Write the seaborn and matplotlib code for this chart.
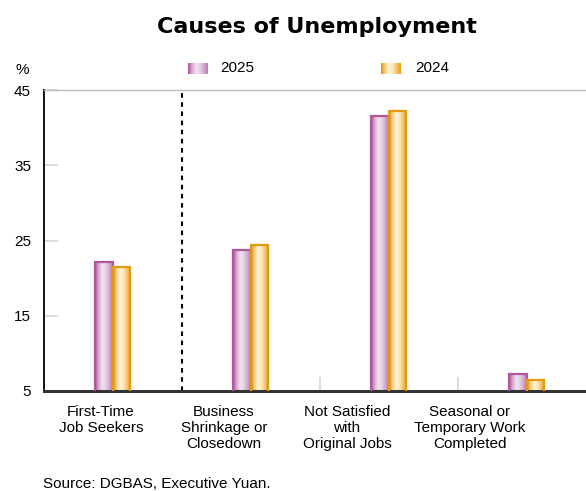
import numpy as np
import pandas as pd
import matplotlib
matplotlib.use("Agg")
import matplotlib.pyplot as plt
from matplotlib.colors import LinearSegmentedColormap
import seaborn as sns

# Data
categories = [
    "First-Time\nJob Seekers",
    "Business\nShrinkage or\nClosedown",
    "Not Satisfied\nwith\nOriginal Jobs",
    "Seasonal or\nTemporary Work\nCompleted",
]
years = ["2025", "2024"]
values_2025 = [22.1, 23.8, 41.6, 7.2]
values_2024 = [21.5, 24.4, 42.2, 6.4]
y_ticks = [5, 15, 25, 35, 45]

df = pd.DataFrame({
    "cause": categories * 2,
    "year": ["2025"] * 4 + ["2024"] * 4,
    "value": values_2025 + values_2024,
})

sns.set_theme(style="white")
plt.rcParams["font.family"] = ["Liberation Sans", "DejaVu Sans"]
plt.rcParams["text.color"] = "black"
plt.rcParams["xtick.color"] = "black"
plt.rcParams["ytick.color"] = "black"
plt.rcParams["ytick.direction"] = "in"
plt.rcParams["xtick.direction"] = "in"

edge_colors = {"2025": "#b3579c", "2024": "#e3980f"}
grad_maps = {
    "2025": LinearSegmentedColormap.from_list(
        "g2025", ["#b0509a", "#d7aad0", "#efe3ef", "#e6d2e4", "#d2a8cc", "#bf7cb3"]),
    "2024": LinearSegmentedColormap.from_list(
        "g2024", ["#e0940a", "#f7cf7e", "#fff4e0", "#fde6b8", "#f6c266", "#e89c14"]),
}

W, H = 586, 491
Y_MIN, Y_MAX = 5, 45
fig = plt.figure(figsize=(W / 100, H / 100), dpi=100)
ax = fig.add_axes([43.5 / W, 100 / H, 552 / W, 301 / H])

sns.barplot(data=df, x="cause", y="value", hue="year", hue_order=years,
            order=categories, width=0.25, ax=ax, legend=False,
            palette={"2025": "#d7aad0", "2024": "#f7cf7e"})

# gradient fills clipped to each bar
grad = np.linspace(0, 1, 256).reshape(1, -1)
for container, yr in zip(ax.containers, years):
    for bar in container:
        x0, y0 = bar.get_x(), bar.get_y()
        w, h = bar.get_width(), bar.get_height()
        bar.set_facecolor("none")
        bar.set_edgecolor(edge_colors[yr])
        bar.set_linewidth(1.6)
        bar.set_zorder(3)
        im = ax.imshow(grad, cmap=grad_maps[yr], aspect="auto",
                       extent=[x0, x0 + w, max(y0, Y_MIN), y0 + h],
                       interpolation="bicubic", zorder=2)
        im.set_clip_path(bar)

ax.set_xlim(-0.5, 3.5)
ax.set_ylim(Y_MIN, Y_MAX)

# spines
ax.spines["top"].set_color("#bdbdbd")
ax.spines["top"].set_linewidth(1.0)
ax.spines["left"].set_color("black")
ax.spines["left"].set_linewidth(1.3)
ax.spines["bottom"].set_color("#333333")
ax.spines["bottom"].set_linewidth(2.2)
ax.spines["right"].set_visible(False)

# y axis
ax.set_yticks(y_ticks)
ax.set_yticklabels([str(v) for v in y_ticks], fontsize=11)
ax.tick_params(axis="y", which="major", direction="in", length=10, width=1.2,
               color="#d6d6d6", pad=9, labelcolor="black", left=True, right=False)

# x axis: labels spaced independently of the bar groups
label_frac = [(57.5 + 123 * i) / 552 for i in range(len(categories))]
label_pos = [f * 4 - 0.5 for f in label_frac]
ax.set_xticks(label_pos)
ax.set_xticklabels(categories, fontsize=11, linespacing=1.2)
ax.tick_params(axis="x", which="major", length=0, pad=10, labelcolor="black")
ax.set_xticks([1.5, 2.5], minor=True)
ax.tick_params(axis="x", which="minor", direction="in", length=10,
               width=1.2, color="#d6d6d6", bottom=True)
ax.set_xlabel("")
ax.set_ylabel("")

# dotted divider
ax.axvline(0.5, color="black", linestyle=(0, (2.2, 2.2)), linewidth=1.5, zorder=1)

# title, unit and source
fig.text(317 / W, 1 - 27 / H, "Causes of Unemployment", ha="center", va="center",
         fontsize=16, fontweight="bold", family=["DejaVu Sans"], color="black")
fig.text(22 / W, 1 - 70 / H, "%", ha="center", va="center", fontsize=11)
fig.text(43 / W, 1 - 484 / H, "Source: DGBAS, Executive Yuan.", ha="left",
         va="center", fontsize=11)

# legend with gradient swatches
for yr, sx, tx in [("2025", 188, 220), ("2024", 381, 415)]:
    lax = fig.add_axes([sx / W, 1 - 74 / H, 20 / W, 11 / H])
    lax.imshow(np.linspace(0, 1, 64).reshape(1, -1), cmap=grad_maps[yr],
               aspect="auto", interpolation="bicubic")
    lax.axis("off")
    fig.text(tx / W, 1 - 68.5 / H, yr, ha="left", va="center", fontsize=11)

fig.savefig("out.png", dpi=100)
